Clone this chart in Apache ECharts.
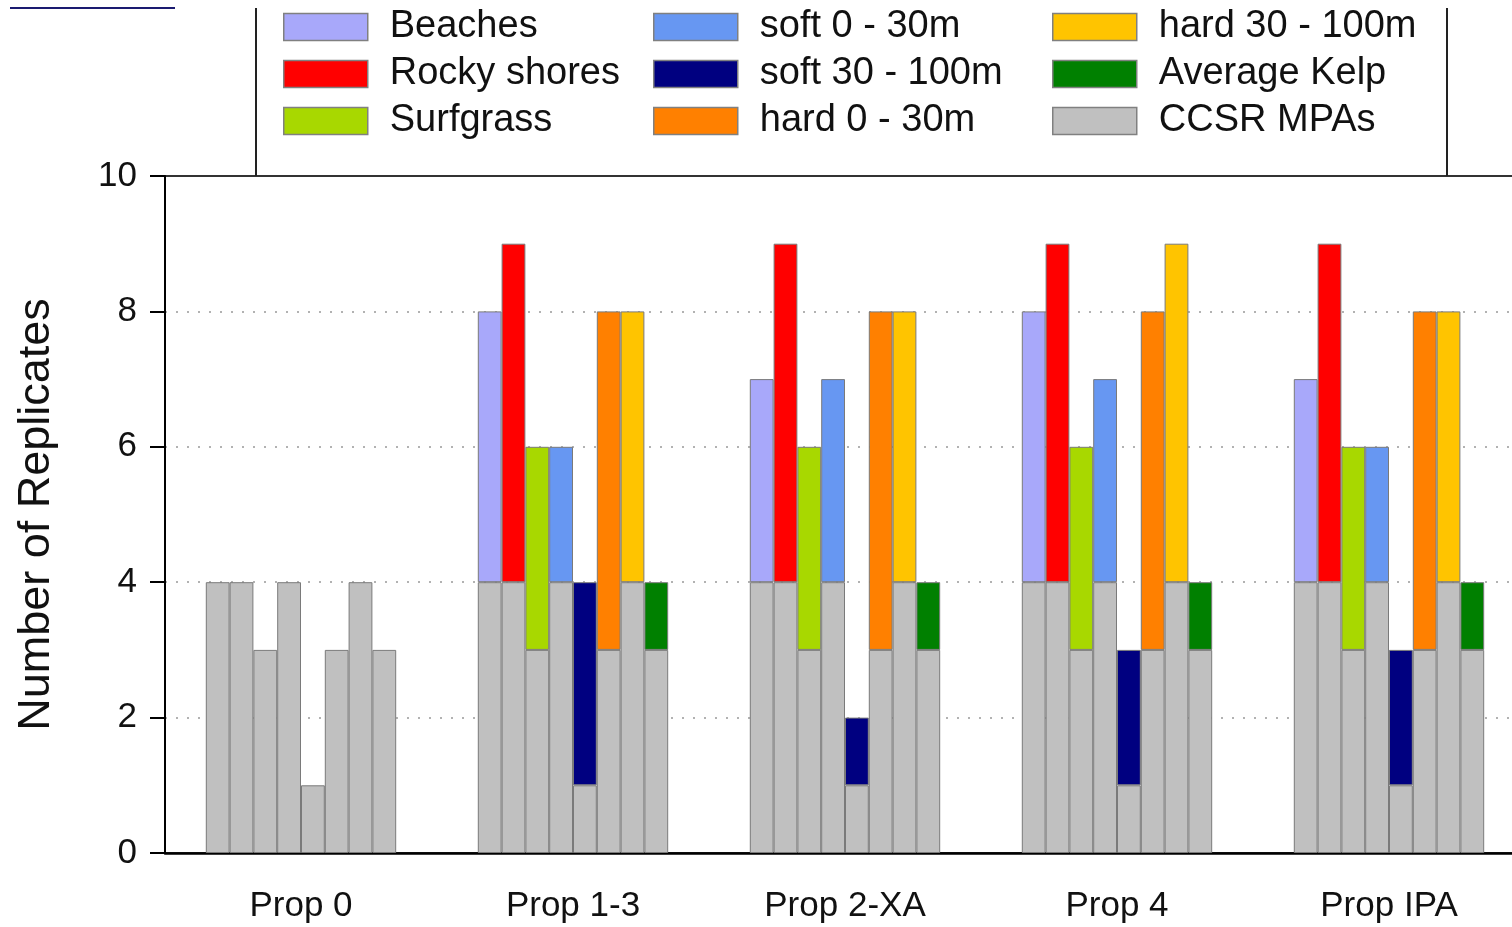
<!DOCTYPE html>
<html>
<head>
<meta charset="utf-8">
<script src="https://cdn.jsdelivr.net/npm/echarts@6/dist/echarts.min.js"></script>
<style>
html,body{margin:0;padding:0;background:#fff;}
#chart{width:1512px;height:927px;}
</style>
</head>
<body>
<div id="chart"></div>
<script>
const categories = ['Prop 0', 'Prop 1-3', 'Prop 2-XA', 'Prop 4', 'Prop IPA'];
const habitats = ['Beaches', 'Rocky shores', 'Surfgrass', 'soft 0 - 30m', 'soft 30 - 100m', 'hard 0 - 30m', 'hard 30 - 100m', 'Average Kelp'];
const habitatColors = ['#a8a8fa', '#ff0000', '#a8d800', '#6797f2', '#000080', '#ff8000', '#ffc400', '#008000'];
const ccsrName = 'CCSR MPAs';
const ccsrColor = '#c0c0c0';
// CCSR MPAs replicates per habitat (grey base in every proposal)
const ccsrMPAs = [4, 4, 3, 4, 1, 3, 4, 3];
// total replicates per habitat for each proposal
const prop0 = [4, 4, 3, 4, 1, 3, 4, 3];
const prop13 = [8, 9, 6, 6, 4, 8, 8, 4];
const prop2XA = [7, 9, 6, 7, 2, 8, 8, 4];
const prop4 = [8, 9, 6, 7, 3, 8, 9, 4];
const propIPA = [7, 9, 6, 6, 3, 8, 8, 4];
const yTicks = [0, 2, 4, 6, 8, 10];

const totals = [prop0, prop13, prop2XA, prop4, propIPA];
const FONT = '"Liberation Sans", Arial, sans-serif';
const border = { borderColor: '#7a7a7a', borderWidth: 1 };

const series = [];
habitats.forEach((h, i) => {
  series.push({
    name: ccsrName, type: 'bar', stack: h,
    itemStyle: Object.assign({ color: ccsrColor }, border),
    data: categories.map(() => ccsrMPAs[i])
  });
  series.push({
    name: h, type: 'bar', stack: h,
    itemStyle: Object.assign({ color: habitatColors[i] }, border),
    data: totals.map(t => { const d = t[i] - ccsrMPAs[i]; return d > 0 ? d : null; })
  });
});
series[0].barGap = '0%';
series[0].barCategoryGap = '30%';

function legend(names, left) {
  return {
    data: names, orient: 'vertical', left: left, top: 4, padding: 0,
    itemWidth: 84, itemHeight: 27, itemGap: 1, icon: 'rect',
    itemStyle: { borderColor: '#808080', borderWidth: 1.5 },
    selectedMode: false,
    textStyle: { fontFamily: FONT, fontSize: 38, color: '#111', lineHeight: 40, padding: [6, 0, 0, 17] }
  };
}

const chart = echarts.init(document.getElementById('chart'));
chart.setOption({
  animation: false,
  backgroundColor: '#fff',
  grid: { left: 165, width: 1360, top: 176, bottom: 74, outerBoundsMode: 'none', containLabel: false, show: true, borderColor: '#333', borderWidth: 2, backgroundColor: 'transparent' },
  legend: [
    legend(habitats.slice(0, 3), 283),
    legend(habitats.slice(3, 6), 653),
    legend([habitats[6], habitats[7], ccsrName], 1052)
  ],
  xAxis: {
    type: 'category', data: categories, boundaryGap: true,
    axisLine: { lineStyle: { color: '#000', width: 2.5 } },
    axisTick: { alignWithLabel: true, length: 10, lineStyle: { color: '#000', width: 3 } },
    axisLabel: { fontFamily: FONT, fontSize: 35, color: '#111', margin: 36 }
  },
  yAxis: {
    type: 'value', min: yTicks[0], max: yTicks[yTicks.length - 1], interval: 2,
    name: 'Number of Replicates', nameLocation: 'middle', nameGap: 106, nameRotate: 90,
    nameTextStyle: { fontFamily: FONT, fontSize: 45, color: '#111' },
    axisLine: { show: true, lineStyle: { color: '#000', width: 2 } },
    axisTick: { show: true, length: 15, lineStyle: { color: '#000', width: 2 } },
    axisLabel: { fontFamily: FONT, fontSize: 35, color: '#111', margin: 28 },
    splitLine: { show: true, showMinLine: false, showMaxLine: false, lineStyle: { color: '#999', width: 1.5, type: [2, 9] } }
  },
  graphic: [
    { type: 'line', shape: { x1: 10, y1: 8, x2: 175, y2: 8 }, style: { stroke: '#1a1a70', lineWidth: 2 } },
    { type: 'line', shape: { x1: 256, y1: 8, x2: 256, y2: 176 }, style: { stroke: '#222', lineWidth: 2 } },
    { type: 'line', shape: { x1: 1447, y1: 8, x2: 1447, y2: 176 }, style: { stroke: '#222', lineWidth: 2 } }
  ],
  series: series
});
</script>
</body>
</html>
